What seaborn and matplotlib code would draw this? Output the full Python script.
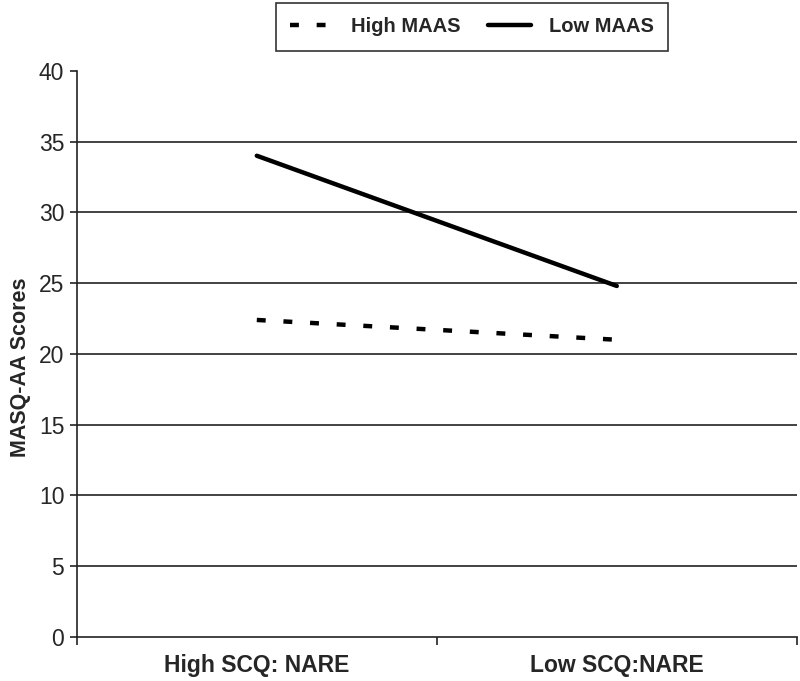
import matplotlib
matplotlib.use("Agg")
import matplotlib.pyplot as plt
import seaborn as sns
import pandas as pd
from matplotlib.lines import Line2D

categories = ["High SCQ: NARE", "Low SCQ:NARE"]
high_maas = [22.4, 21.0]
low_maas = [34.0, 24.8]
series_names = ["High MAAS", "Low MAAS"]
y_ticks = [0, 5, 10, 15, 20, 25, 30, 35, 40]

df = pd.DataFrame({
    "cond": list(range(len(categories))) * 2,
    "score": high_maas + low_maas,
    "group": [series_names[0]] * len(categories) + [series_names[1]] * len(categories),
})

sns.set_style("white")
plt.rcParams['font.family'] = ['Liberation Sans', 'DejaVu Sans']

fig = plt.figure(figsize=(8.0, 6.81), dpi=100)
ax = fig.add_axes([0.096, 0.0646, 0.9, 0.8314])

for y in y_ticks[1:-1]:
    ax.axhline(y, color="#222222", lw=1.2, zorder=0)

sns.lineplot(data=df, x="cond", y="score", hue="group", style="group",
             palette={series_names[0]: "black", series_names[1]: "black"},
             dashes={series_names[0]: (2, 4), series_names[1]: ""},
             linewidth=3.2, legend=False, ax=ax)

ax.set_xlim(-0.5, 1.5)
ax.set_ylim(0, 40)
ax.set_yticks(y_ticks)
ax.set_yticklabels([str(v) for v in y_ticks], fontsize=16.5)
ax.set_xticks([0, 1])
ax.set_xticklabels(categories, fontsize=16.5, fontweight="bold")
ax.tick_params(axis="x", which="major", length=0, pad=12)
ax.set_xticks([-0.5, 0.5, 1.5], minor=True)
ax.tick_params(axis="x", which="minor", length=6, width=1.2, color="#222222", direction="out", bottom=True)
ax.tick_params(axis="y", length=5, width=1.2, color="#222222", direction="out", left=True, pad=4)
ax.set_xlabel("")
ax.set_ylabel("MASQ-AA Scores", fontsize=15.5, fontweight="bold")
ax.yaxis.set_label_coords(-0.064, 0.477)

for s in ["top", "right"]:
    ax.spines[s].set_visible(False)
for s in ["left", "bottom"]:
    ax.spines[s].set_color("#222222")
    ax.spines[s].set_linewidth(1.2)

handles = [Line2D([], [], color="black", lw=3.2, dashes=(2, 4)),
           Line2D([], [], color="black", lw=3.2)]
leg = fig.legend(handles, series_names, loc="upper center", bbox_to_anchor=(0.59, 0.996),
                 ncol=2, frameon=True, fancybox=False, edgecolor="black",
                 prop={"size": 14.5, "weight": "bold"}, handlelength=2.1,
                 columnspacing=1.4, handletextpad=0.9, borderpad=0.72, borderaxespad=0.0)
leg.get_frame().set_linewidth(1.2)

fig.savefig("out.png", dpi=100)
